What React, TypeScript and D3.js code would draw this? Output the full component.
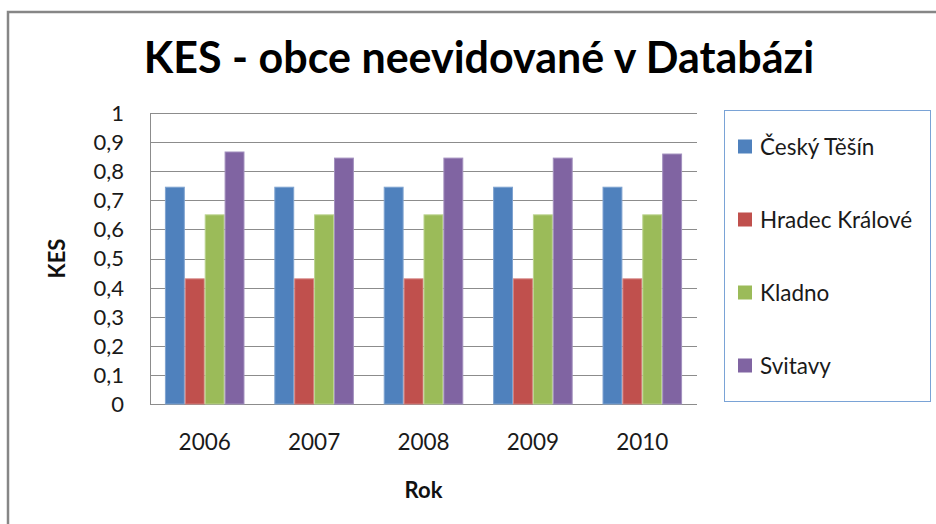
import React, { useEffect, useRef } from "react";
import * as d3 from "d3";

const years = ["2006", "2007", "2008", "2009", "2010"];
const seriesNames = ["Český Těšín", "Hradec Králové", "Kladno", "Svitavy"];
const ceskyTesin = [0.745, 0.745, 0.745, 0.745, 0.745];
const hradecKralove = [0.43, 0.43, 0.43, 0.43, 0.43];
const kladno = [0.65, 0.65, 0.65, 0.65, 0.65];
const svitavy = [0.866, 0.845, 0.845, 0.845, 0.859];
const yTicks = [0, 0.1, 0.2, 0.3, 0.4, 0.5, 0.6, 0.7, 0.8, 0.9, 1];
const colors = ["#4F81BD", "#C0504D", "#9BBB59", "#8064A2"];
const strokes = ["#7FA3D0", "#D4807E", "#BBD38F", "#A290BE"];

const FONT = "Lato, 'Open Sans', sans-serif";

const App: React.FC = () => {
  const svgRef = useRef<SVGSVGElement | null>(null);

  useEffect(() => {
    const width = 936;
    const height = 524;
    const margin = { top: 113, right: 239, bottom: 120, left: 150 };
    const values = [ceskyTesin, hradecKralove, kladno, svitavy];

    const svg = d3.select(svgRef.current).attr("width", width).attr("height", height);
    svg.selectAll("*").remove();

    svg.append("rect").attr("width", width).attr("height", height).attr("fill", "white");

    // outer chart border
    svg
      .append("path")
      .attr("d", `M8,${height + 5} L8,12 L${width + 5},12`)
      .attr("fill", "none")
      .attr("stroke", "#868686")
      .attr("stroke-width", 2.5);

    const x0 = d3.scaleBand().domain(years).range([margin.left, width - margin.right]);

    // gap width 150% -> group of 4 bars fills 4/5.5 of each band
    const groupW = (x0.bandwidth() * 4) / 5.5;
    const x1 = d3
      .scaleBand()
      .domain(seriesNames)
      .range([(x0.bandwidth() - groupW) / 2, (x0.bandwidth() + groupW) / 2]);

    const y = d3
      .scaleLinear()
      .domain([0, 1])
      .range([height - margin.bottom, margin.top]);

    // gridlines
    svg
      .append("g")
      .selectAll("line")
      .data(yTicks)
      .join("line")
      .attr("x1", margin.left)
      .attr("x2", width - margin.right)
      .attr("y1", (d) => Math.round(y(d)) + 0.5)
      .attr("y2", (d) => Math.round(y(d)) + 0.5)
      .attr("stroke", "#8c8c8c")
      .attr("stroke-width", 1);

    // left axis line
    svg
      .append("line")
      .attr("x1", margin.left + 0.5)
      .attr("x2", margin.left + 0.5)
      .attr("y1", y(1))
      .attr("y2", y(0))
      .attr("stroke", "#8c8c8c");

    // bars
    const groups = svg
      .append("g")
      .selectAll("g")
      .data(years)
      .join("g")
      .attr("transform", (d) => `translate(${x0(d)},0)`);

    groups
      .selectAll("rect")
      .data((d, i) => seriesNames.map((s, j) => ({ s, j, v: values[j][i] })))
      .join("rect")
      .attr("x", (d) => (x1(d.s) || 0) + 0.5)
      .attr("y", (d) => y(d.v))
      .attr("width", x1.bandwidth() - 1)
      .attr("height", (d) => y(0) - y(d.v))
      .attr("fill", (d) => colors[d.j])
      .attr("stroke", (d) => strokes[d.j])
      .attr("stroke-width", 1);

    // y tick labels
    svg
      .append("g")
      .selectAll("text")
      .data(yTicks)
      .join("text")
      .attr("x", 124)
      .attr("y", (d) => y(d))
      .attr("dy", "0.36em")
      .attr("text-anchor", "end")
      .attr("font-family", FONT)
      .attr("font-size", 22)
      .attr("fill", "#1a1a1a")
      .text((d) => d3.format(".1~f")(d).replace(".", ","));

    // x tick labels
    svg
      .append("g")
      .selectAll("text")
      .data(years)
      .join("text")
      .attr("x", (d) => (x0(d) || 0) + x0.bandwidth() / 2)
      .attr("y", 450)
      .attr("text-anchor", "middle")
      .attr("font-family", FONT)
      .attr("font-size", 22.5)
      .attr("fill", "#1a1a1a")
      .text((d) => d);

    // axis titles
    svg
      .append("text")
      .attr("x", (margin.left + width - margin.right) / 2)
      .attr("y", 498)
      .attr("text-anchor", "middle")
      .attr("font-family", FONT)
      .attr("font-weight", "bold")
      .attr("font-size", 22)
      .attr("fill", "#111")
      .text("Rok");

    svg
      .append("text")
      .attr("transform", `translate(65,${(y(0) + y(1)) / 2}) rotate(-90)`)
      .attr("text-anchor", "middle")
      .attr("font-family", FONT)
      .attr("font-weight", "bold")
      .attr("font-size", 22)
      .attr("fill", "#111")
      .text("KES");

    // title
    svg
      .append("text")
      .attr("x", 479)
      .attr("y", 73)
      .attr("text-anchor", "middle")
      .attr("font-family", FONT)
      .attr("font-weight", "bold")
      .attr("font-size", 43)
      .attr("fill", "#000")
      .text("KES - obce neevidované v Databázi");

    // legend
    const legendY = d3.scalePoint().domain(seriesNames).range([146.5, 365.5]);

    svg
      .append("rect")
      .attr("x", 724.5)
      .attr("y", 110.5)
      .attr("width", 206)
      .attr("height", 291)
      .attr("fill", "white")
      .attr("stroke", "#7aa3d6")
      .attr("stroke-width", 1);

    const items = svg
      .append("g")
      .selectAll("g")
      .data(seriesNames)
      .join("g")
      .attr("transform", (d) => `translate(0,${legendY(d)})`);

    items
      .append("rect")
      .attr("x", 738)
      .attr("y", -7)
      .attr("width", 14)
      .attr("height", 14)
      .attr("fill", (d, i) => colors[i]);

    items
      .append("text")
      .attr("x", 760)
      .attr("dy", "0.36em")
      .attr("font-family", FONT)
      .attr("font-size", 22.5)
      .attr("fill", "#1a1a1a")
      .text((d) => d);
  }, []);

  return <svg ref={svgRef} style={{ position: "absolute", left: 0, top: 0 }}></svg>;
};

export default App;
